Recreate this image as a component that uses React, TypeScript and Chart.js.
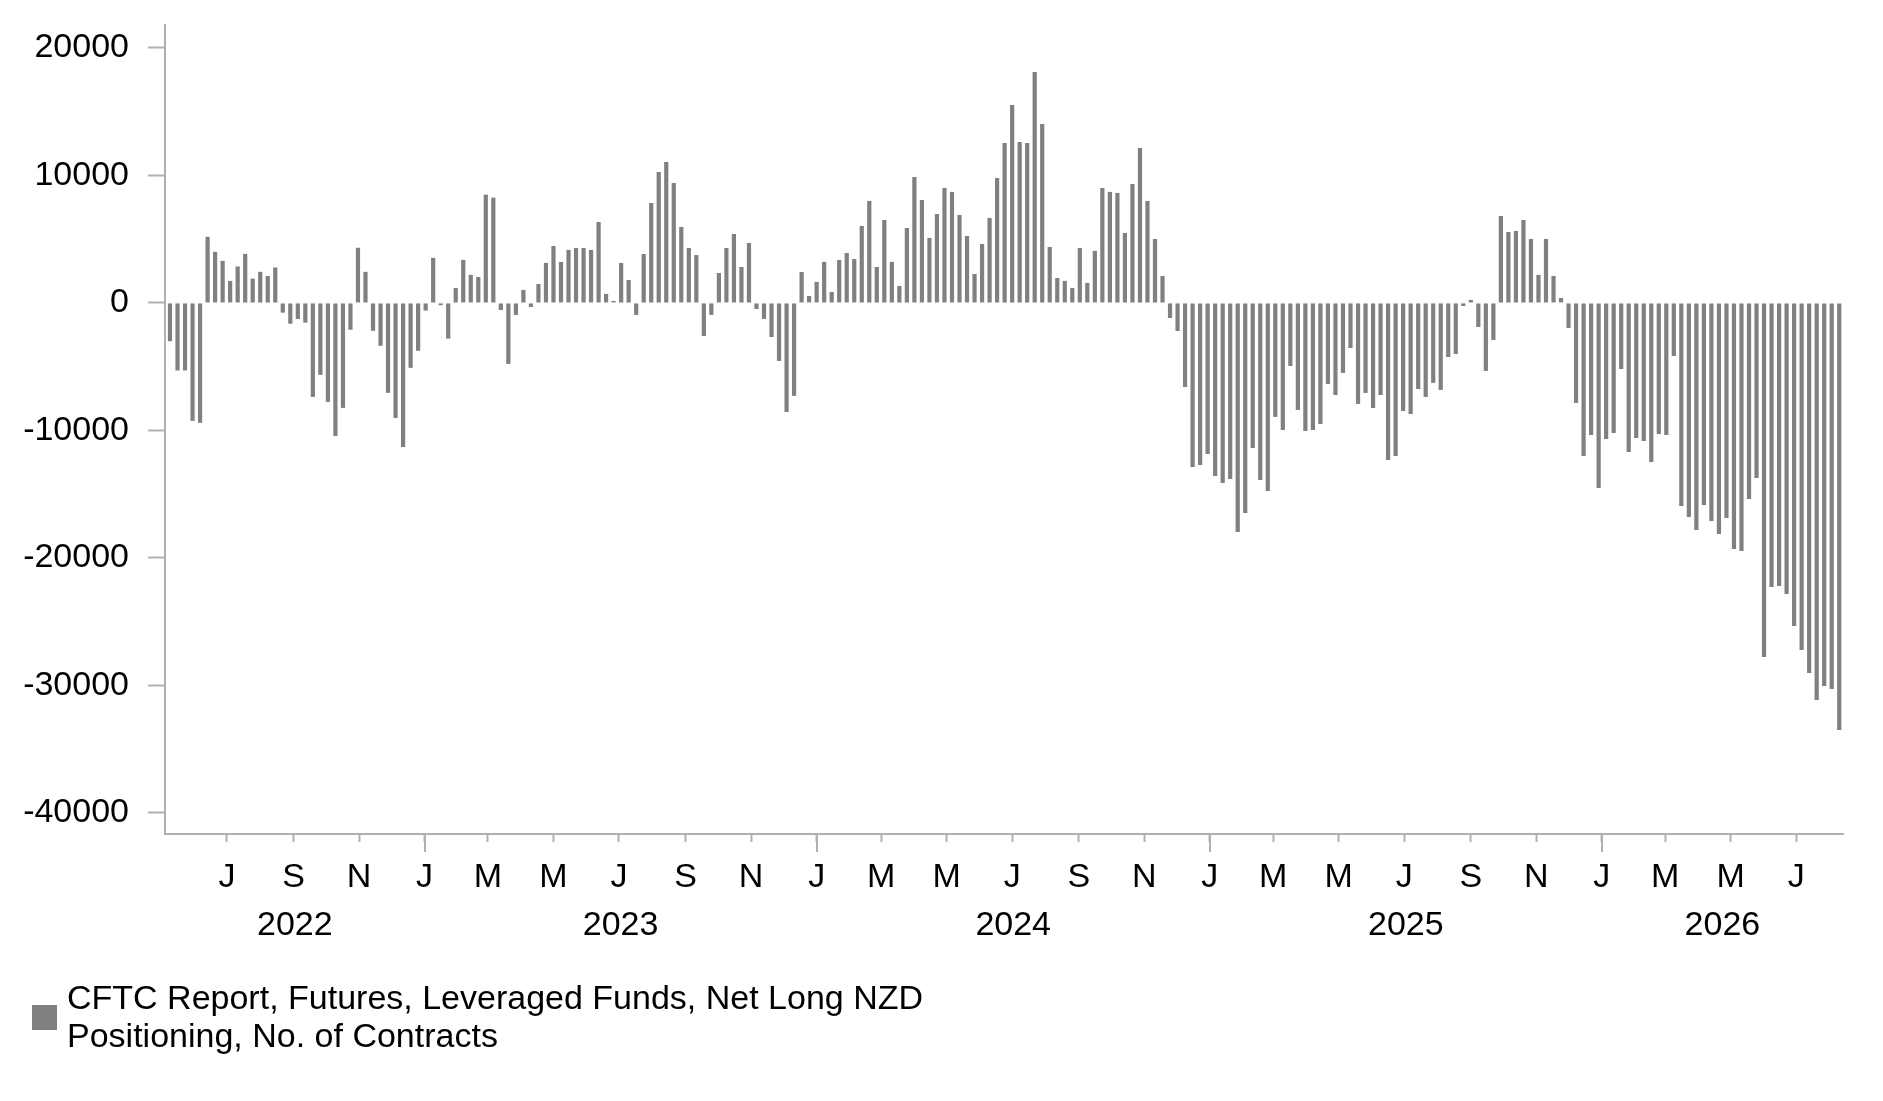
import { useEffect, useRef } from "react"
import { Chart, registerables } from "chart.js"

Chart.register(...registerables)

// weekly CFTC readings, first bar is the week of 9 May 2022
const firstWeek = "2022-05-09"

const netLong2022 = [
  -3000, -5300, -5300, -9250, -9400, 5190, 4010, 3300, 1730, 2860, 3850, 1910,
  2440, 2120, 2780, -760, -1630, -1260, -1550, -7370, -5640, -7760, -10430, -8230,
  -2100, 4330, 2440, -2180, -3360, -7050, -9020, -11300, -5090, -3750,
]
const netLong2023 = [
  -600, 3540, -180, -2800, 1180, 3380, 2200, 2040, 8490, 8260, -550, -4780,
  -940, 1020, -310, 1490, 3140, 4470, 3220, 4160, 4310, 4310, 4160, 6350,
  710, 160, 3140, 1800, -940, 3840, 7840, 10270, 11060, 9410, 5960, 4310,
  3760, -2590, -940, 2350, 4310, 5410, 2820, 4710, -470, -1250, -2670, -4550,
  -8550, -7290, 2430, 550,
]
const netLong2024 = [
  1650, 3220, 860, 3370, 3920, 3450, 6040, 8000, 2820, 6510, 3220, 1330,
  5880, 9880, 8080, 5100, 6980, 9020, 8710, 6900, 5250, 2270, 4630, 6670,
  9800, 12550, 15530, 12630, 12550, 18120, 14040, 4390, 1960, 1730, 1180, 4310,
  1570, 4080, 9020, 8710, 8630, 5490, 9330, 12160, 8000, 5020, 2120, -1180,
  -2200, -6590, -12860, -12710, -11840,
]
const netLong2025 = [
  -13570, -14120, -13800, -17960, -16470, -11370, -13880, -14750, -8940, -9960, -4940, -8390,
  -10040, -9960, -9490, -6350, -7220, -5490, -3530, -7920, -7060, -8240, -7220, -12310,
  -12000, -8470, -8710, -6750, -7370, -6270, -6820, -4240, -4000, -240, 240, -1880,
  -5330, -2900, 6820, 5570, 5650, 6510, 5020, 2200, 5020, 2120, 390, -1960,
  -7840, -12000, -10350, -14510,
]
const netLong2026 = [
  -10670, -10200, -5180, -11690, -10590, -10820, -12470, -10270, -10350, -4160, -15920, -16780,
  -17800, -15840, -17100, -18120, -16860, -19290, -19450, -15370, -13730, -27760, -22270, -22200,
  -22820, -25330, -27220, -29020, -31140, -30040, -30270, -33490,
]

const monthTicks = [
  "2022-07", "2022-09", "2022-11",
  "2023-01", "2023-03", "2023-05", "2023-07", "2023-09", "2023-11",
  "2024-01", "2024-03", "2024-05", "2024-07", "2024-09", "2024-11",
  "2025-01", "2025-03", "2025-05", "2025-07", "2025-09", "2025-11",
  "2026-01", "2026-03", "2026-05", "2026-07",
]
const monthLetters = ["J", "F", "M", "A", "M", "J", "J", "A", "S", "O", "N", "D"]
const yearLabels = ["2022", "2023", "2024", "2025", "2026"]
const yTicks = [20000, 10000, 0, -10000, -20000, -30000, -40000]
const legendLines = [
  "CFTC Report, Futures, Leveraged Funds, Net Long NZD",
  "Positioning, No. of Contracts",
]

const BAR = "#808080"
const AXIS = "#b0b0b0"
const FONT = "'Liberation Sans', Arial, Helvetica, sans-serif"
const FONT_SIZE = 34

const DAY = 86400000
const start = Date.parse(firstWeek + "T00:00:00Z")
const dayOf = (iso: string) => (Date.parse(iso + "T00:00:00Z") - start) / DAY

const decorations = {
  id: "decorations",
  afterDraw(chart: any) {
    const { ctx, chartArea } = chart
    const x = chart.scales.x
    ctx.save()

    // January ticks are longer
    ctx.strokeStyle = AXIS
    ctx.lineWidth = 2
    monthTicks
      .filter((m) => m.endsWith("-01"))
      .forEach((m) => {
        const px = Math.round(x.getPixelForValue(dayOf(m + "-01")))
        ctx.beginPath()
        ctx.moveTo(px, chartArea.bottom)
        ctx.lineTo(px, chartArea.bottom + 18)
        ctx.stroke()
      })

    // year names centred on the visible part of each year
    ctx.fillStyle = "#000"
    ctx.font = `${FONT_SIZE}px ${FONT}`
    ctx.textAlign = "center"
    ctx.textBaseline = "alphabetic"
    yearLabels.forEach((y) => {
      const from = Math.max(x.min, dayOf(y + "-01-01"))
      const to = Math.min(x.max, dayOf(Number(y) + 1 + "-01-01"))
      const px = (x.getPixelForValue(from) + x.getPixelForValue(to)) / 2
      ctx.fillText(y, px, 935)
    })

    // legend
    ctx.fillStyle = BAR
    ctx.fillRect(32, 1005, 25, 25)
    ctx.fillStyle = "#000"
    ctx.textAlign = "left"
    legendLines.forEach((line, i) => ctx.fillText(line, 67, 1009 + i * 38))

    ctx.restore()
  },
}

function NzdPositioningChart() {
  const chartRef = useRef<HTMLCanvasElement>(null)
  const chartInstance = useRef<Chart | null>(null)

  useEffect(() => {
    if (!chartRef.current) return
    const ctx = chartRef.current.getContext("2d")
    if (!ctx) return

    if (chartInstance.current) {
      chartInstance.current.destroy()
    }

    const values = [...netLong2022, ...netLong2023, ...netLong2024, ...netLong2025, ...netLong2026]

    chartInstance.current = new Chart(ctx, {
      type: "bar",
      data: {
        datasets: [
          {
            label: legendLines.join(" "),
            data: values.map((v, i) => ({ x: i * 7, y: v })),
            backgroundColor: BAR,
            borderWidth: 0,
            barPercentage: 0.56,
            categoryPercentage: 1,
          },
        ],
      },
      options: {
        responsive: true,
        maintainAspectRatio: false,
        animation: false,
        layout: { padding: { top: 25, right: 40, left: 0, bottom: 0 } },
        font: { family: FONT },
        plugins: {
          legend: { display: false },
          tooltip: { enabled: true },
        },
        scales: {
          x: {
            type: "linear",
            offset: false,
            min: -4.65,
            max: 1557.5,
            afterBuildTicks: (scale: any) => {
              scale.ticks = monthTicks.map((m) => ({ value: dayOf(m + "-01") }))
            },
            afterFit: (scale: any) => {
              scale.height = 267
              scale.paddingLeft = 0
              scale.paddingRight = 0
            },
            ticks: {
              autoSkip: false,
              maxRotation: 0,
              padding: 15,
              color: "#000",
              font: { family: FONT, size: FONT_SIZE },
              callback: (_v: any, i: number) => monthLetters[Number(monthTicks[i].slice(5)) - 1],
            },
            grid: {
              offset: false,
              drawOnChartArea: false,
              tickLength: 8,
              tickColor: AXIS,
              tickWidth: 2,
            },
            border: { color: AXIS, width: 2 },
          },
          y: {
            min: -41650,
            max: 21800,
            afterBuildTicks: (scale: any) => {
              scale.ticks = yTicks.map((v) => ({ value: v }))
            },
            afterFit: (scale: any) => {
              scale.width = 165
              scale.paddingTop = 0
              scale.paddingBottom = 0
            },
            ticks: {
              padding: 19,
              color: "#000",
              font: { family: FONT, size: FONT_SIZE },
              callback: (v: any) => String(v),
            },
            grid: {
              drawOnChartArea: false,
              tickLength: 17,
              tickColor: AXIS,
              tickWidth: 2,
            },
            border: { color: AXIS, width: 2 },
          },
        },
      },
      plugins: [decorations],
    })

    return () => {
      if (chartInstance.current) {
        chartInstance.current.destroy()
        chartInstance.current = null
      }
    }
  }, [])

  return (
    <div style={{ position: "fixed", left: 0, top: 0, width: 1883, height: 1101, background: "#fff" }}>
      <canvas ref={chartRef} />
    </div>
  )
}

export default function App() {
  return <NzdPositioningChart />
}
